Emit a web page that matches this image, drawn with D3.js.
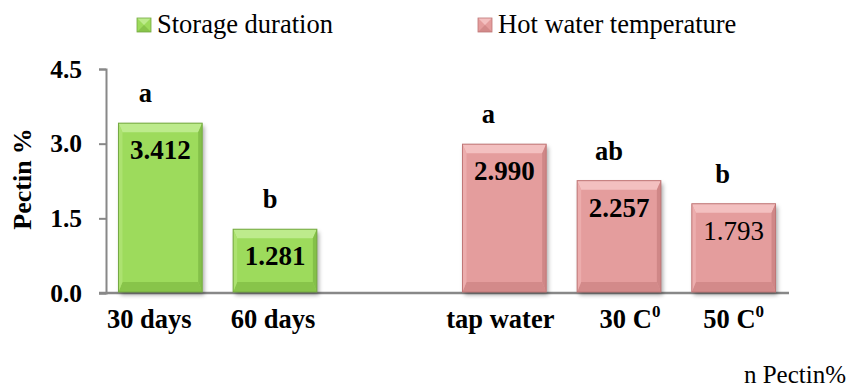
<!DOCTYPE html>
<html>
<head>
<meta charset="utf-8">
<script src="https://cdn.jsdelivr.net/npm/d3@7"></script>
</head>
<body style="margin:0">
<svg id="chart" width="848" height="387"></svg>
<script>
// Pectin % by storage duration and hot water temperature
const categories = ["30 days", "60 days", "", "tap water", "30 C", "50 C"];
const groups     = ["storage", "storage", null, "hot", "hot", "hot"];
const values     = [3.412, 1.281, null, 2.990, 2.257, 1.793];
const valueLabels = ["3.412", "1.281", "", "2.990", "2.257", "1.793"];
const valueBold  = [true, true, false, true, true, false];
const letters    = ["a", "b", "", "a", "ab", "b"];
const superscripts = ["", "", "", "", "0", "0"];
const yTicks = [0, 1.5, 3.0, 4.5];
const legendNames = ["Storage duration", "Hot water temperature"];

// layout tweaks (pixel nudges for labels)
const letterShift = [-15, -5, 0, -16, -10, -11];
const catShift = [-11, -2, 0, -4, 11, 0];
const serifFont = "Liberation Serif";

const palette = {
  storage: { body: "#9ddb5b", top: "#bdeb8c", bottom: "#88c44a", left: "#ace270", right: "#84c049", edge: "#74a842" },
  hot:     { body: "#e49d9d", top: "#f3c0c0", bottom: "#d38a8a", left: "#ecadad", right: "#cf8787", edge: "#bf7676" }
};

const svg = d3.select("#chart");

const defs = svg.append("defs");
const shadow = defs.append("filter").attr("id", "shadow")
  .attr("x", "-10%").attr("y", "-10%").attr("width", "130%").attr("height", "130%");
shadow.append("feDropShadow").attr("dx", 2).attr("dy", 3).attr("stdDeviation", 2)
  .attr("flood-color", "#000").attr("flood-opacity", 0.35);

const x = d3.scaleBand().domain(d3.range(categories.length))
  .range([103, 791]).paddingInner(0.27).paddingOuter(0.135);
const y = d3.scaleLinear().domain([0, 4.5]).range([293, 69]);

// Y axis
const yAxis = svg.append("g").attr("transform", "translate(106,0)")
  .call(d3.axisLeft(y).tickValues(yTicks).tickFormat(d3.format(".1f")).tickSize(7).tickPadding(17));
yAxis.attr("font-family", serifFont).attr("font-size", 25.5);
yAxis.select(".domain").attr("stroke", "#888").attr("stroke-width", 2);
yAxis.selectAll(".tick line").attr("stroke", "#888").attr("stroke-width", 2);
yAxis.selectAll(".tick text").attr("fill", "#000")
  .attr("font-family", serifFont).attr("font-size", 25.5).attr("font-weight", "bold");

// Baseline
svg.append("line").attr("x1", 99).attr("x2", 789).attr("y1", y(0)).attr("y2", y(0))
  .attr("stroke", "#888").attr("stroke-width", 2.5);

// Bars with bevelled edges
const idx = d3.range(categories.length).filter(i => values[i] !== null);
const bars = svg.append("g").selectAll("g.bar").data(idx).join("g").attr("class", "bar");

bars.each(function(i) {
  const g = d3.select(this);
  const c = palette[groups[i]];
  const x0 = x(i), w = x.bandwidth(), x1 = x0 + w;
  const y0 = y(values[i]), y1 = y(0) - 1;
  const bt = 9, bb = 10, bs = 4;
  g.append("rect").attr("x", x0).attr("y", y0).attr("width", w).attr("height", y1 - y0)
    .attr("fill", c.body).attr("filter", "url(#shadow)");
  const poly = (pts, fill) => g.append("polygon").attr("points", pts.map(p => p.join(",")).join(" ")).attr("fill", fill);
  poly([[x0, y0], [x1, y0], [x1 - bs, y0 + bt], [x0 + bs, y0 + bt]], c.top);
  poly([[x0, y1], [x1, y1], [x1 - bs, y1 - bb], [x0 + bs, y1 - bb]], c.bottom);
  poly([[x0, y0], [x0 + bs, y0 + bt], [x0 + bs, y1 - bb], [x0, y1]], c.left);
  poly([[x1, y0], [x1 - bs, y0 + bt], [x1 - bs, y1 - bb], [x1, y1]], c.right);
  g.append("rect").attr("x", x0).attr("y", y0).attr("width", w).attr("height", y1 - y0)
    .attr("fill", "none").attr("stroke", c.edge).attr("stroke-width", 1);

  // value label inside the bar
  g.append("text").attr("x", x0 + w / 2).attr("y", y0 + 36)
    .attr("text-anchor", "middle").attr("font-family", serifFont).attr("font-size", 27)
    .attr("font-weight", valueBold[i] ? "bold" : "normal").attr("fill", "#000")
    .text(valueLabels[i]);

  // significance letter above the bar
  g.append("text").attr("x", x0 + w / 2 + letterShift[i]).attr("y", y0 - 21)
    .attr("text-anchor", "middle").attr("font-family", serifFont).attr("font-size", 26.5)
    .attr("font-weight", "bold").attr("fill", "#000")
    .text(letters[i]);
});

// Category labels
const catLabels = svg.append("g").selectAll("text").data(idx).join("text")
  .attr("x", i => x(i) + x.bandwidth() / 2 + catShift[i])
  .attr("y", 328)
  .attr("text-anchor", "middle").attr("font-family", serifFont).attr("font-size", 26.5)
  .attr("font-weight", "bold").attr("fill", "#000");
catLabels.append("tspan").text(i => categories[i]);
catLabels.append("tspan").attr("dy", -11).attr("font-size", 17).text(i => superscripts[i]);

// Y axis title
const yTitle = svg.append("text").attr("transform", "translate(31,179) rotate(-90)")
  .attr("text-anchor", "middle").attr("font-family", serifFont).attr("font-size", 26)
  .attr("font-weight", "bold").attr("fill", "#000");
yTitle.append("tspan").text("Pectin");
yTitle.append("tspan").attr("dx", 6).text("%");

// Legend
const legendX = [137, 478];
const legendKeys = ["storage", "hot"];
legendNames.forEach((name, k) => {
  const c = palette[legendKeys[k]];
  const lx = legendX[k], ly = 18;
  const s = 14;
  const lg = svg.append("g");
  lg.append("rect").attr("x", lx).attr("y", ly).attr("width", s).attr("height", s).attr("fill", c.body);
  const p = (pts, fill) => lg.append("polygon").attr("points", pts.map(q => q.join(",")).join(" ")).attr("fill", fill);
  const m = [lx + s / 2, ly + s / 2];
  p([[lx, ly], [lx + s, ly], m], c.top);
  p([[lx, ly + s], [lx + s, ly + s], m], c.bottom);
  lg.append("rect").attr("x", lx).attr("y", ly).attr("width", s).attr("height", s)
    .attr("fill", "none").attr("stroke", c.edge).attr("stroke-width", 0.8);
  lg.append("text").attr("x", lx + s + 6).attr("y", ly + 15)
    .attr("font-family", serifFont).attr("font-size", 26.5).attr("fill", "#000").text(name);
});

// Caption fragment at bottom right
svg.append("text").attr("x", 846).attr("y", 383).attr("text-anchor", "end")
  .attr("font-family", serifFont).attr("font-size", 25).attr("fill", "#000").text("n Pectin%");
</script>
</body>
</html>
